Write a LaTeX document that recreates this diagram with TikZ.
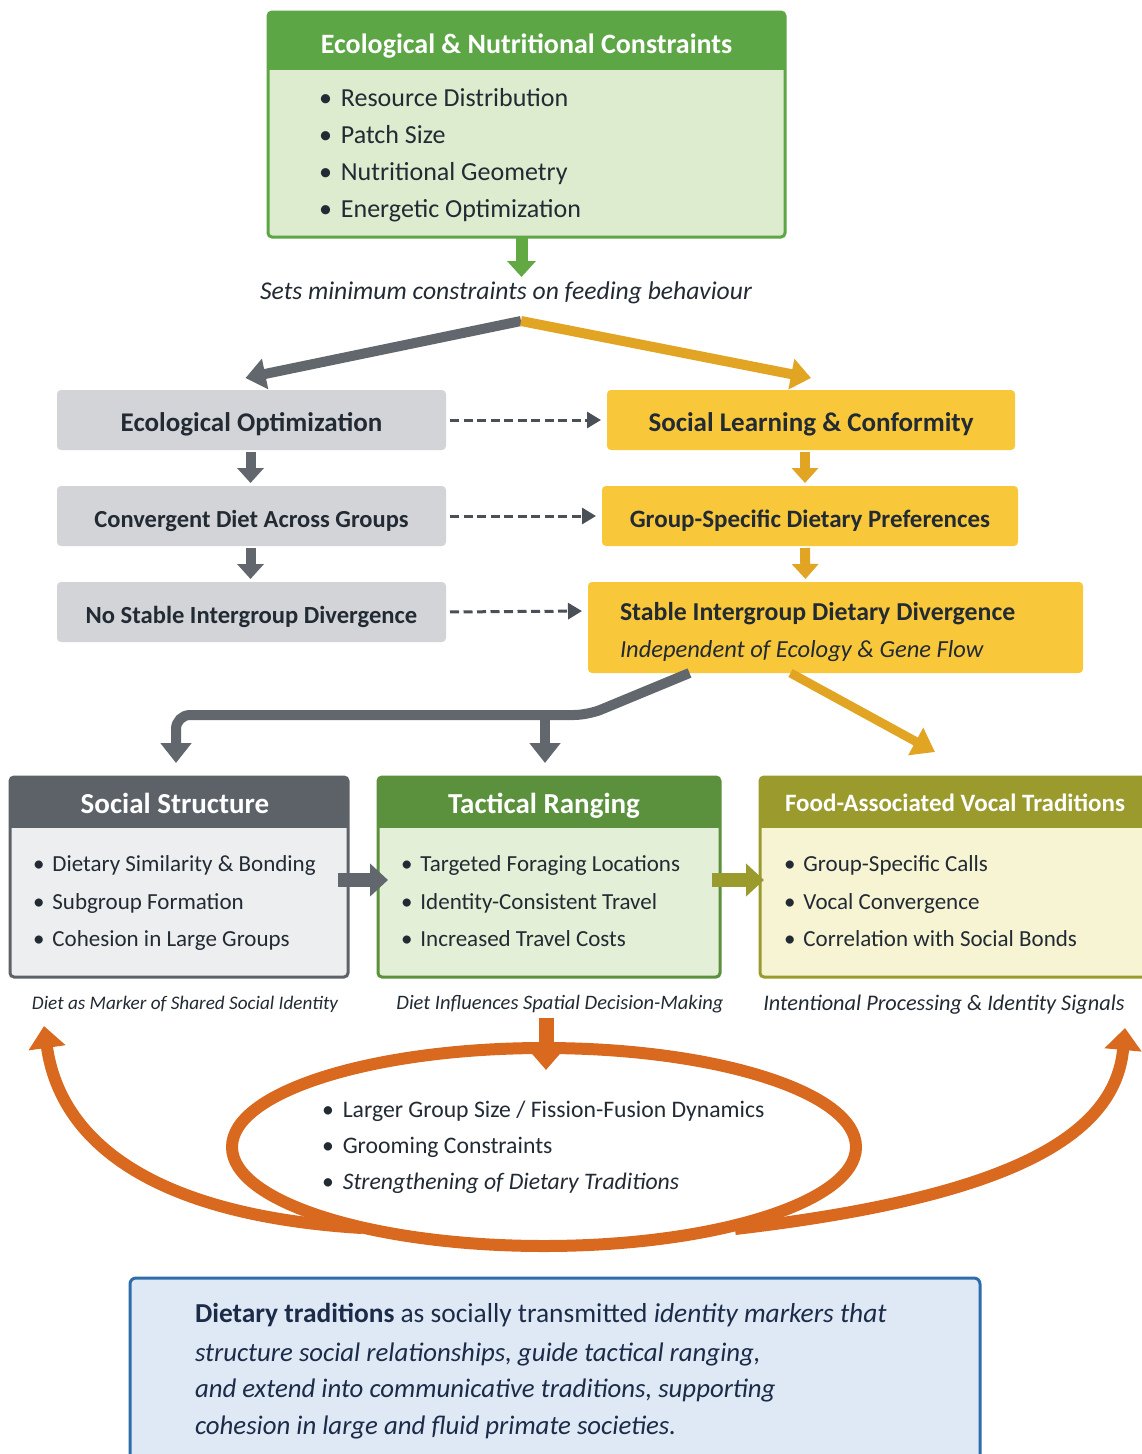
\documentclass[tikz,border=0pt]{standalone}
\usepackage{fontspec}
\setmainfont{Carlito}
\usetikzlibrary{arrows.meta,shapes.geometric}
\definecolor{hdrgreen}{HTML}{5DA646}
\definecolor{topbody}{HTML}{DDEBCF}
\definecolor{arrgreen}{HTML}{62A843}
\definecolor{grayfill}{HTML}{D2D4D8}
\definecolor{grayarr}{HTML}{62666D}
\definecolor{goldfill}{HTML}{F9C83A}
\definecolor{goldarr}{HTML}{E1A523}
\definecolor{ssHdr}{HTML}{5D6168}
\definecolor{ssBody}{HTML}{EDEEF0}
\definecolor{trHdr}{HTML}{5B913D}
\definecolor{trBody}{HTML}{E3EFD6}
\definecolor{fvHdr}{HTML}{9A9A2D}
\definecolor{fvBody}{HTML}{F7F4D4}
\definecolor{orng}{HTML}{D8691F}
\definecolor{navy}{HTML}{2E6CAB}
\definecolor{bluefill}{HTML}{DEE9F5}
\definecolor{navytext}{HTML}{1C2B48}
\definecolor{ink}{HTML}{222A33}
\definecolor{dashc}{HTML}{4A5058}
\newcommand\fsz[2]{\fontsize{#1}{#2}\selectfont}
\begin{document}
\begin{tikzpicture}[x=1pt,y=-1pt,
  every node/.style={inner sep=0pt,outer sep=0pt},
  blt/.style={anchor=base west,font=\fsz{26}{30},text=ink},
  sblt/.style={anchor=base west,font=\fsz{23}{28},text=ink},
  rowbox/.style={rounded corners=4pt,minimum height=60pt,text height=24pt,text depth=1pt,text=ink},
  graybox/.style={rowbox,fill=grayfill},
  goldbox/.style={rowbox,fill=goldfill},
  hdrtxt/.style={anchor=base,font=\fsz{29}{32}\bfseries,text=white},
  captxt/.style={anchor=base,text=ink},
  grayfat/.style={line width=10pt,grayarr,-{Triangle[length=20pt,width=30pt]}},
  goldfat/.style={line width=10pt,goldarr,-{Triangle[length=20pt,width=30pt]}},
  graydown/.style={line width=10pt,grayarr,-{Triangle[length=15pt,width=26pt]},shorten <=2pt,shorten >=3pt},
  golddown/.style={line width=10pt,goldarr,-{Triangle[length=15pt,width=26pt]},shorten <=2pt,shorten >=3pt},
  dasharr/.style={line width=3pt,dashc,dash pattern=on 9pt off 4.5pt,-{Triangle[length=14pt,width=16pt]},shorten <=4pt,shorten >=6pt},
  orarr/.style={line width=12pt,orng,-{Triangle[length=22pt,width=36pt]}},
  sumtxt/.style={anchor=base west,font=\fsz{26.8}{30}\itshape,text=navytext}
]
\useasboundingbox (0,0) rectangle (1141,1454);
\fill[white] (0,0) rectangle (1141,1454);

% ---------- top box
\node[fill=topbody,rounded corners=4pt,minimum width=517pt,minimum height=225pt] (eco) at (526.5,124.5) {};
\begin{scope}
\clip[rounded corners=4pt] (eco.north west) rectangle (eco.south east);
\fill[hdrgreen] (eco.north west) rectangle ([yshift=-58pt]eco.north east);
\end{scope}
\draw[hdrgreen,line width=3pt,rounded corners=4pt] (eco.north west) rectangle (eco.south east);
\node[hdrtxt,font=\fsz{28}{32}\bfseries] (ecot) at (526.5,53) {Ecological \& Nutritional Constraints};
\node[blt] (e1) at (319,106) {•\hspace{9pt}Resource Distribution};
\node[blt] (e2) at (319,143) {•\hspace{9pt}Patch Size};
\node[blt] (e3) at (319,180) {•\hspace{9pt}Nutritional Geometry};
\node[blt] (e4) at (319,217) {•\hspace{9pt}Energetic Optimization};

\draw[line width=12pt,arrgreen,-{Triangle[length=16pt,width=28pt]}] ([xshift=-5pt]eco.south) -- ++(0,40);
\node[anchor=base,font=\fsz{25.6}{30}\itshape,text=ink] (sets) at (506,299) {Sets minimum constraints on feeding behaviour};

% ---------- middle rows
\node[graybox,minimum width=389pt,font=\fsz{27}{30}\bfseries] (a1) at (251.5,420) {Ecological Optimization};
\node[graybox,minimum width=389pt,font=\fsz{24.5}{30}\bfseries] (a2) at (251.5,516) {Convergent Diet Across Groups};
\node[graybox,minimum width=389pt,font=\fsz{24.6}{30}\bfseries] (a3) at (251.5,612) {No Stable Intergroup Divergence};
\node[goldbox,minimum width=408pt,font=\fsz{27}{30}\bfseries] (b1) at (811,420) {Social Learning \& Conformity};
\node[goldbox,minimum width=416pt,font=\fsz{25}{30}\bfseries] (b2) at (810,516) {Group-Specific Dietary Preferences};
\node[goldbox,minimum width=495pt,minimum height=91pt,text height=0pt,text depth=0pt] (b3) at (835.5,627.5) {};
\node[anchor=base west,font=\fsz{25.8}{28}\bfseries,text=ink] (b3t) at (620,620) {Stable Intergroup Dietary Divergence};
\node[anchor=base west,font=\fsz{24.5}{28}\itshape,text=ink] (b3s) at (620,657) {Independent of Ecology \& Gene Flow};

\coordinate (split) at (521,321);
\draw[grayfat] (split) -- ([xshift=-6pt,yshift=12pt]a1.north);
\draw[goldfat] (split) -- ([yshift=12pt]b1.north);

\draw[graydown] ([xshift=-1pt]a1.south) -- ([xshift=-1pt]a2.north);
\draw[graydown] ([xshift=-1pt]a2.south) -- ([xshift=-1pt]a3.north);
\draw[golddown] ([xshift=-6pt]b1.south) -- ([xshift=-5pt]b2.north);
\draw[golddown] ([xshift=-5pt]b2.south) -- ([xshift=-30pt]b3.north);

\draw[dasharr] (a1.east) -- (b1.west);
\draw[dasharr] (a2.east) -- (b2.west);
\draw[dasharr] (a3.east) -- ([yshift=1pt]b3.west |- a3.east);

% ---------- bottom boxes
\node[fill=ssBody,rounded corners=4pt,minimum width=338pt,minimum height=200pt] (ss) at (179,877) {};
\begin{scope}
\clip[rounded corners=4pt] (ss.north west) rectangle (ss.south east);
\fill[ssHdr] (ss.north west) rectangle ([yshift=-51pt]ss.north east);
\end{scope}
\draw[ssHdr,line width=3pt,rounded corners=4pt] (ss.north west) rectangle (ss.south east);

\node[fill=trBody,rounded corners=4pt,minimum width=342pt,minimum height=200pt] (tr) at (549,877) {};
\begin{scope}
\clip[rounded corners=4pt] (tr.north west) rectangle (tr.south east);
\fill[trHdr] (tr.north west) rectangle ([yshift=-51pt]tr.north east);
\end{scope}
\draw[trHdr,line width=3pt,rounded corners=4pt] (tr.north west) rectangle (tr.south east);

\node[fill=fvBody,rounded corners=4pt,minimum width=390pt,minimum height=200pt] (fv) at (955,877) {};
\begin{scope}
\clip[rounded corners=4pt] (fv.north west) rectangle (fv.south east);
\fill[fvHdr] (fv.north west) rectangle ([yshift=-51pt]fv.north east);
\end{scope}
\draw[fvHdr,line width=3pt,rounded corners=4pt] (fv.north west) rectangle (fv.south east);

\node[hdrtxt] (sst) at (175,813) {Social Structure};
\node[hdrtxt] (trt) at (544,813) {Tactical Ranging};
\node[hdrtxt,font=\fsz{25}{28}\bfseries] (fvt) at (955,811) {Food-Associated Vocal Traditions};

\node[sblt] (s1) at (33,871) {•\hspace{8pt}Dietary Similarity \& Bonding};
\node[sblt] (s2) at (33,909) {•\hspace{8pt}Subgroup Formation};
\node[sblt] (s3) at (33,946) {•\hspace{8pt}Cohesion in Large Groups};
\node[sblt] (t1) at (401,871) {•\hspace{8pt}Targeted Foraging Locations};
\node[sblt] (t2) at (401,909) {•\hspace{8pt}Identity-Consistent Travel};
\node[sblt] (t3) at (401,946) {•\hspace{8pt}Increased Travel Costs};
\node[sblt] (v1) at (784,871) {•\hspace{8pt}Group-Specific Calls};
\node[sblt] (v2) at (784,909) {•\hspace{8pt}Vocal Convergence};
\node[sblt] (v3) at (784,946) {•\hspace{8pt}Correlation with Social Bonds};

\draw[line width=14pt,grayarr,-{Triangle[length=18pt,width=32pt]}] ([xshift=-10pt,yshift=-3pt]ss.east) -- ([xshift=10pt,yshift=-3pt]tr.west);
\draw[line width=14pt,fvHdr,-{Triangle[length=18pt,width=32pt]}] ([xshift=-8pt,yshift=-3pt]tr.east) -- ([xshift=4pt,yshift=-3pt]fv.west);

% connectors from b3
\coordinate (jn) at (545,715);
\draw[line width=10pt,grayarr,rounded corners=14pt,-{Triangle[length=20pt,width=30pt]}] ([xshift=-146pt]b3.south) -- (588,715) -- (176,715) -- ([xshift=-3pt,yshift=14pt]ss.north);
\draw[line width=10pt,grayarr,-{Triangle[length=20pt,width=30pt]}] (jn) -- ([xshift=-4pt,yshift=14pt]tr.north);
\draw[line width=9pt,goldarr,-{Triangle[length=22pt,width=30pt]}] ([xshift=-45pt]b3.south) -- ([xshift=-20pt,yshift=25pt]fv.north);

% captions
\node[captxt,font=\fsz{19.2}{24}\itshape] (c1) at (185,1009) {Diet as Marker of Shared Social Identity};
\node[captxt,font=\fsz{20.5}{24}\itshape] (c2) at (560,1009) {Diet Influences Spatial Decision-Making};
\node[captxt,font=\fsz{22.3}{24}\itshape] (c3) at (944,1010) {Intentional Processing \& Identity Signals};

% ---------- orange loop
\node[ellipse,draw=orng,line width=12pt,minimum width=624pt,minimum height=198pt] (ell) at (544,1147) {};
\draw[line width=15pt,orng,-{Triangle[length=24pt,width=40pt]}] ([xshift=-14pt,yshift=-5pt]c2.south) -- ([xshift=2pt,yshift=-22pt]ell.north);
\coordinate (lstart) at (362,1228);
\coordinate (ul) at (44,1026);
\coordinate (rstart) at (735,1229);
\coordinate (ur) at (1125,1028);
\draw[orarr] (lstart) .. controls (150,1215) and (60,1140) .. (ul);
\draw[orarr] (rstart) .. controls (1000,1198) and (1115,1140) .. (ur);
\node[sblt,font=\fsz{23.7}{28}] (o1) at (322,1117) {•\hspace{9pt}Larger Group Size / Fission-Fusion Dynamics};
\node[sblt,font=\fsz{23.7}{28}] (o2) at (322,1153) {•\hspace{9pt}Grooming Constraints};
\node[sblt,font=\fsz{23.7}{28}] (o3) at (322,1189) {•\hspace{9pt}\textit{Strengthening of Dietary Traditions}};

% ---------- summary box
\node[draw=navy,fill=bluefill,line width=3pt,rounded corners=6pt,minimum width=850pt,minimum height=190pt] (sum) at (555,1373) {};
\node[sumtxt,font=\fsz{27.4}{30}\itshape] (l1) at (195,1322) {{\upshape\bfseries Dietary traditions} {\upshape as socially transmitted} identity markers that};
\node[sumtxt] (l2) at (195,1361) {structure social relationships, guide tactical ranging,};
\node[sumtxt] (l3) at (195,1397) {and extend into communicative traditions, supporting};
\node[sumtxt] (l4) at (195,1434) {cohesion in large and fluid primate societies.};
\end{tikzpicture}
\end{document}
